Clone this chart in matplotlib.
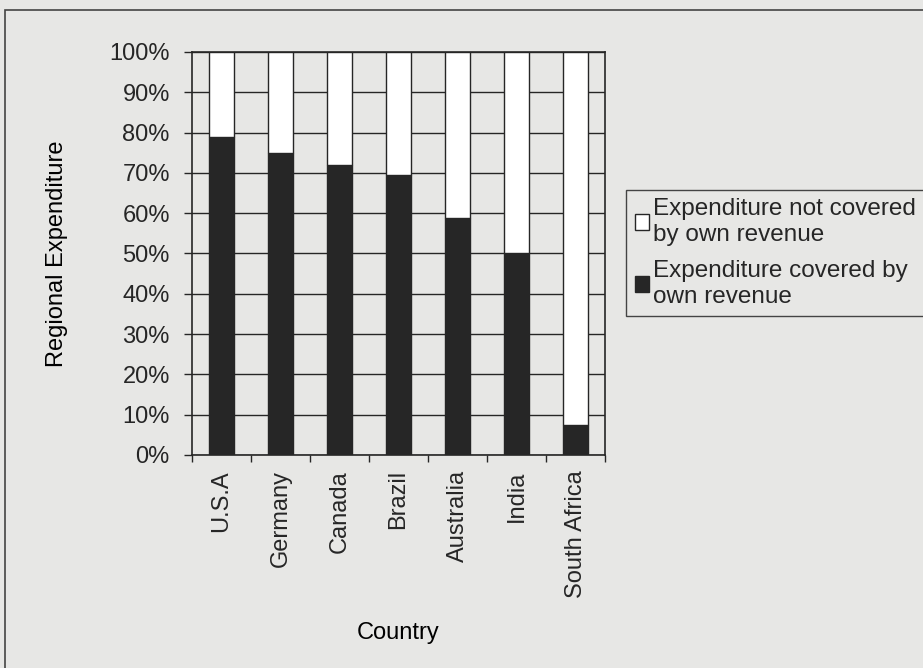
import matplotlib
matplotlib.use("Agg")
import matplotlib.pyplot as plt
import numpy as np
from matplotlib.patches import Rectangle
from matplotlib.ticker import PercentFormatter

countries = ["U.S.A", "Germany", "Canada", "Brazil", "Australia", "India", "South Africa"]
covered = [79.0, 75.0, 72.0, 69.5, 58.7, 50.0, 7.5]   # % of regional expenditure
total = 100.0

paper = "#e7e7e5"
ink = "#262626"

plt.rcParams["font.family"] = ["Liberation Sans", "DejaVu Sans"]
plt.rcParams["text.color"] = ink
plt.rcParams["axes.edgecolor"] = ink
plt.rcParams["xtick.color"] = ink
plt.rcParams["ytick.color"] = ink

fig = plt.figure(figsize=(9.23, 6.68), dpi=100, facecolor=paper)
ax = fig.add_axes([0.208, 0.3189, 0.4475, 0.6033])
ax.set_facecolor(paper)

x = np.arange(len(countries))
not_covered = [total - c for c in covered]

b1 = ax.bar(x, covered, width=0.42, color=ink, edgecolor=ink, linewidth=1, zorder=3,
            label="Expenditure covered by\nown revenue")
b2 = ax.bar(x, not_covered, bottom=covered, width=0.42, color="white", edgecolor=ink,
            linewidth=1, zorder=3, label="Expenditure not covered\nby own revenue")

ax.set_xlim(-0.5, len(countries) - 0.5)
ax.set_ylim(0, 100)
ax.set_yticks(np.arange(0, 101, 10))
ax.yaxis.set_major_formatter(PercentFormatter(decimals=0))
ax.yaxis.grid(True, color=ink, linewidth=1)
ax.set_axisbelow(True)
for s in ax.spines.values():
    s.set_linewidth(1.2)

# category labels in the middle, tick marks on the boundaries
ax.set_xticks(x)
ax.set_xticklabels(countries, rotation=90, va="top", ha="center")
ax.set_xticks(np.arange(-0.5, len(countries), 1), minor=True)
ax.tick_params(axis="x", which="major", length=0, pad=11, labelsize=17)
ax.tick_params(axis="x", which="minor", length=5, width=1, direction="out")
ax.tick_params(axis="y", length=6, width=1, direction="out", pad=10, labelsize=17)

ax.set_xlabel("Country", fontsize=17, labelpad=17)
ax.set_ylabel("Regional Expenditure", fontsize=17, labelpad=30)

leg = fig.legend([b2, b1], [b2.get_label(), b1.get_label()], loc="center left",
                 bbox_to_anchor=(626 / 923, 0.621), fontsize=17.5, frameon=True,
                 fancybox=False, edgecolor="#444444", facecolor=paper, framealpha=1,
                 handlelength=0.6, handleheight=0.6, handletextpad=0.15,
                 labelspacing=0.6, borderpad=0.35, borderaxespad=0)
for t in leg.get_texts():
    t.set_linespacing(1.2)

# outer chart frame
fig.patches.append(Rectangle((5 / 923, -0.1), 1.2, 1.1 - 10 / 668, transform=fig.transFigure,
                             fill=False, edgecolor="#444444", linewidth=1.2))

fig.savefig("out.png", dpi=100, facecolor=paper)
